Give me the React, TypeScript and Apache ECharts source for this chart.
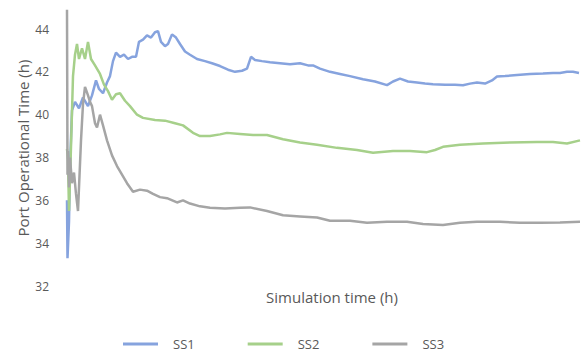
import React, { useEffect, useRef } from "react";
import * as echarts from "echarts";

// Simulation time (arbitrary hour units) and values
const ss1Time = [0, 1, 4, 6, 10, 16, 24, 32, 42, 50, 58, 64, 72, 80, 86, 92, 98, 106, 114, 122, 130, 138, 144, 152, 160, 168, 176, 182, 188, 196, 202, 210, 218, 226, 236, 246, 260, 276, 290, 306, 322, 336, 350, 360, 368, 376, 390, 406, 426, 446, 466, 482, 492, 506, 526, 546, 566, 592, 616, 640, 652, 666, 682, 700, 716, 732, 756, 776, 792, 806, 820, 836, 850, 860, 876, 900, 926, 952, 972, 986, 1000, 1012, 1024];
const ss1Values = [36.0, 33.3, 35.0, 37.6, 40.2, 40.6, 40.3, 40.8, 40.4, 40.9, 41.6, 41.2, 41.0, 41.5, 41.8, 42.5, 42.9, 42.7, 42.8, 42.6, 42.7, 42.7, 43.4, 43.5, 43.7, 43.6, 43.85, 43.9, 43.4, 43.2, 43.3, 43.75, 43.6, 43.3, 42.95, 42.8, 42.6, 42.5, 42.4, 42.27, 42.1, 42.0, 42.05, 42.15, 42.7, 42.55, 42.5, 42.45, 42.4, 42.35, 42.4, 42.3, 42.3, 42.15, 42.0, 41.9, 41.8, 41.65, 41.55, 41.38, 41.55, 41.68, 41.55, 41.5, 41.45, 41.42, 41.4, 41.4, 41.37, 41.45, 41.5, 41.45, 41.6, 41.78, 41.8, 41.85, 41.9, 41.92, 41.95, 41.95, 42.0, 42.0, 41.95];

const ss2Time = [0, 2, 4, 8, 12, 16, 20, 24, 30, 36, 42, 48, 56, 66, 74, 82, 90, 98, 106, 116, 126, 140, 152, 176, 196, 216, 232, 252, 266, 286, 306, 320, 346, 372, 400, 432, 466, 500, 540, 580, 612, 652, 686, 720, 736, 752, 786, 832, 886, 940, 972, 1000, 1026];
const ss2Values = [38.4, 37.9, 35.5, 38.5, 41.8, 42.8, 43.3, 42.6, 43.1, 42.6, 43.4, 42.6, 42.3, 41.9, 41.4, 41.1, 40.7, 40.95, 41.0, 40.65, 40.4, 40.0, 39.85, 39.75, 39.72, 39.6, 39.5, 39.15, 39.0, 39.0, 39.08, 39.15, 39.1, 39.05, 39.05, 38.85, 38.7, 38.6, 38.45, 38.35, 38.22, 38.3, 38.3, 38.25, 38.35, 38.5, 38.6, 38.65, 38.7, 38.72, 38.72, 38.65, 38.8];

const ss3Time = [0, 1, 2, 4, 6, 10, 14, 18, 22, 24, 28, 32, 36, 42, 46, 50, 56, 60, 66, 72, 80, 90, 100, 110, 120, 126, 132, 146, 160, 172, 186, 200, 220, 232, 246, 266, 286, 316, 346, 366, 400, 432, 466, 500, 526, 566, 600, 640, 680, 712, 752, 786, 820, 866, 906, 946, 986, 1026];
const ss3Values = [44.9, 37.2, 38.3, 36.6, 38.0, 36.8, 37.3, 36.3, 35.5, 36.6, 38.8, 40.5, 41.3, 40.9, 40.6, 40.4, 39.6, 39.4, 40.0, 39.5, 38.8, 38.1, 37.6, 37.2, 36.8, 36.6, 36.4, 36.5, 36.45, 36.3, 36.15, 36.1, 35.9, 36.0, 35.85, 35.72, 35.65, 35.62, 35.65, 35.67, 35.5, 35.3, 35.25, 35.2, 35.05, 35.05, 34.95, 35.0, 35.0, 34.9, 34.85, 34.95, 35.0, 35.0, 34.95, 34.95, 34.97, 35.0];

const yTicks = [32, 34, 36, 38, 40, 42, 44];
const seriesNames = ["SS1", "SS2", "SS3"];
const xTitle = "Simulation time (h)";
const yTitle = "Port Operational Time (h)";

const colors = ["#86A3DE", "#A6D08A", "#A5A5A5"];

function pairs(t: number[], v: number[]) {
  return t.map((x, i) => [x, v[i]]);
}

export default function App() {
  const ref = useRef<HTMLDivElement>(null);
  useEffect(() => {
    if (!ref.current) return;
    const chart = echarts.init(ref.current, null, { renderer: "svg" });
    const data = [pairs(ss1Time, ss1Values), pairs(ss2Time, ss2Values), pairs(ss3Time, ss3Values)];
    chart.setOption({
      animation: false,
      backgroundColor: "#ffffff",
      color: colors,
      grid: { left: 67, right: 4, top: 29, bottom: 66, containLabel: false },
      xAxis: {
        type: "value",
        min: 0,
        max: 1026,
        axisLine: { show: false },
        axisTick: { show: false },
        axisLabel: { show: false },
        splitLine: { show: false },
      },
      yAxis: {
        type: "value",
        min: yTicks[0],
        max: yTicks[yTicks.length - 1],
        interval: 2,
        axisLine: { show: false },
        axisTick: { show: false },
        splitLine: { show: false },
        axisLabel: {
          margin: 18,
          color: "#595959",
          fontFamily: "Open Sans",
          fontSize: 12,
        },
      },
      legend: {
        left: 123,
        top: 337,
        padding: 0,
        icon: "rect",
        itemWidth: 35,
        itemHeight: 3,
        itemGap: 53,
        data: seriesNames,
        textStyle: {
          color: "#595959",
          fontFamily: "Open Sans",
          fontSize: 13,
          lineHeight: 14,
          padding: [0, 0, 0, 10],
        },
      },
      graphic: [
        {
          type: "text",
          x: 22.5,
          y: 148,
          rotation: Math.PI / 2,
          style: {
            text: yTitle,
            fill: "#595959",
            font: "15px 'Open Sans'",
            align: "center",
            verticalAlign: "middle",
          },
        },
        {
          type: "text",
          x: 332,
          y: 297,
          style: {
            text: xTitle,
            fill: "#595959",
            font: "15px 'Open Sans'",
            align: "center",
            verticalAlign: "middle",
          },
        },
      ],
      series: seriesNames.map((name, i) => ({
        name,
        type: "line",
        data: data[i],
        showSymbol: false,
        symbol: "none",
        clip: false,
        lineStyle: { width: 2.5, color: colors[i] },
        itemStyle: { color: colors[i] },
      })),
    });
    return () => chart.dispose();
  }, []);
  return (
    <div
      ref={ref}
      style={{ position: "fixed", left: 0, top: 0, width: 584, height: 352 }}
    />
  );
}
